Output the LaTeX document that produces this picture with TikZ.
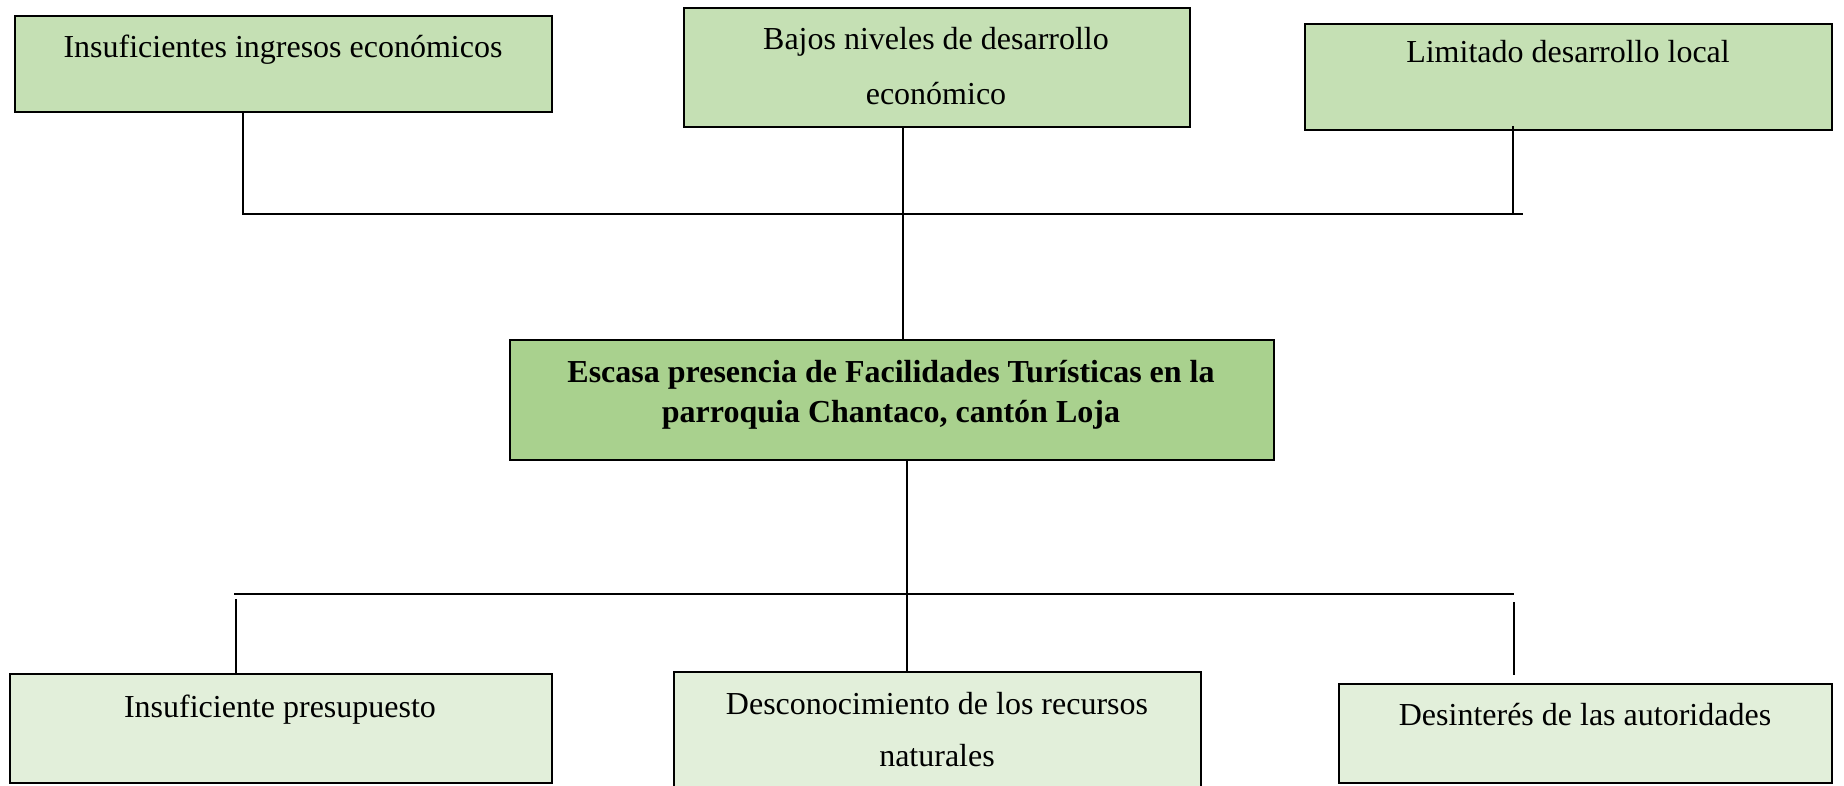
\documentclass[tikz,border=0pt]{standalone}
\usepackage{fontspec}
\setmainfont{Liberation Serif}
\definecolor{topg}{HTML}{C5E0B4}
\definecolor{midg}{HTML}{A9D18E}
\definecolor{botg}{HTML}{E2EFDA}
\begin{document}
\begin{tikzpicture}[x=1pt,y=-1pt,
  box/.style={draw=black, line width=1.8pt, anchor=north west, inner sep=0pt},
  txt/.style={font=\fontsize{32}{38}\selectfont, anchor=base, inner sep=0pt},
  btxt/.style={txt, font=\fontsize{32}{38}\selectfont\bfseries},
  link/.style={draw=black, line width=1.4pt}]
\useasboundingbox (0,0) rectangle (1844,785);
% boxes
\node[box, fill=topg, minimum width=537pt, minimum height=96pt] (tl) at (14,15) {};
\node[box, fill=topg, minimum width=506pt, minimum height=119pt] (tm) at (683,7) {};
\node[box, fill=topg, minimum width=527pt, minimum height=106pt] (tr) at (1304,23) {};
\node[box, fill=midg, minimum width=764pt, minimum height=120pt] (c) at (509,339) {};
\node[box, fill=botg, minimum width=542pt, minimum height=109pt] (bl) at (9,673) {};
\node[box, fill=botg, minimum width=527pt, minimum height=125pt] (bm) at (673,671) {};
\node[box, fill=botg, minimum width=493pt, minimum height=99pt] (br) at (1338,683) {};
% texts
\node[txt] (tlt) at (283,57) {Insuficientes ingresos económicos};
\node[txt] (tmt1) at (936,49) {Bajos niveles de desarrollo};
\node[txt] (tmt2) at (936,104) {económico};
\node[txt] (trt) at (1568,62) {Limitado desarrollo local};
\node[btxt] (ct1) at (891,382) {Escasa presencia de Facilidades Turísticas en la};
\node[btxt] (ct2) at (891,422) {parroquia Chantaco, cantón Loja};
\node[txt] (blt) at (280,717) {Insuficiente presupuesto};
\node[txt] (bmt1) at (937,714) {Desconocimiento de los recursos};
\node[txt] (bmt2) at (937,766) {naturales};
\node[txt] (brt) at (1585,725) {Desinterés de las autoridades};
% junction coordinates
\coordinate (ht1) at (243,214);
\coordinate (ht2) at (1523,214);
\coordinate (vtm) at (903,0);
\coordinate (trj) at (1513,215);
\coordinate (hb1) at (234,594);
\coordinate (hb2) at (1514,594);
\coordinate (vbm) at (907,0);
\coordinate (blj) at (236,599);
\coordinate (brj) at (1514,602);
% connectors
\draw[link] (tl.south -| ht1) -- (ht1) -- (ht2);
\draw[link] (tm.south -| vtm) -- (c.north -| vtm);
\draw[link] ([yshift=5pt]tr.south -| trj) -- (trj);
\draw[link] (hb1) -- (hb2);
\draw[link] (c.south -| vbm) -- (bm.north -| vbm);
\draw[link] (blj) -- (bl.north -| blj);
\draw[link] (brj) -- ([yshift=8pt]br.north -| brj);
\end{tikzpicture}
\end{document}
